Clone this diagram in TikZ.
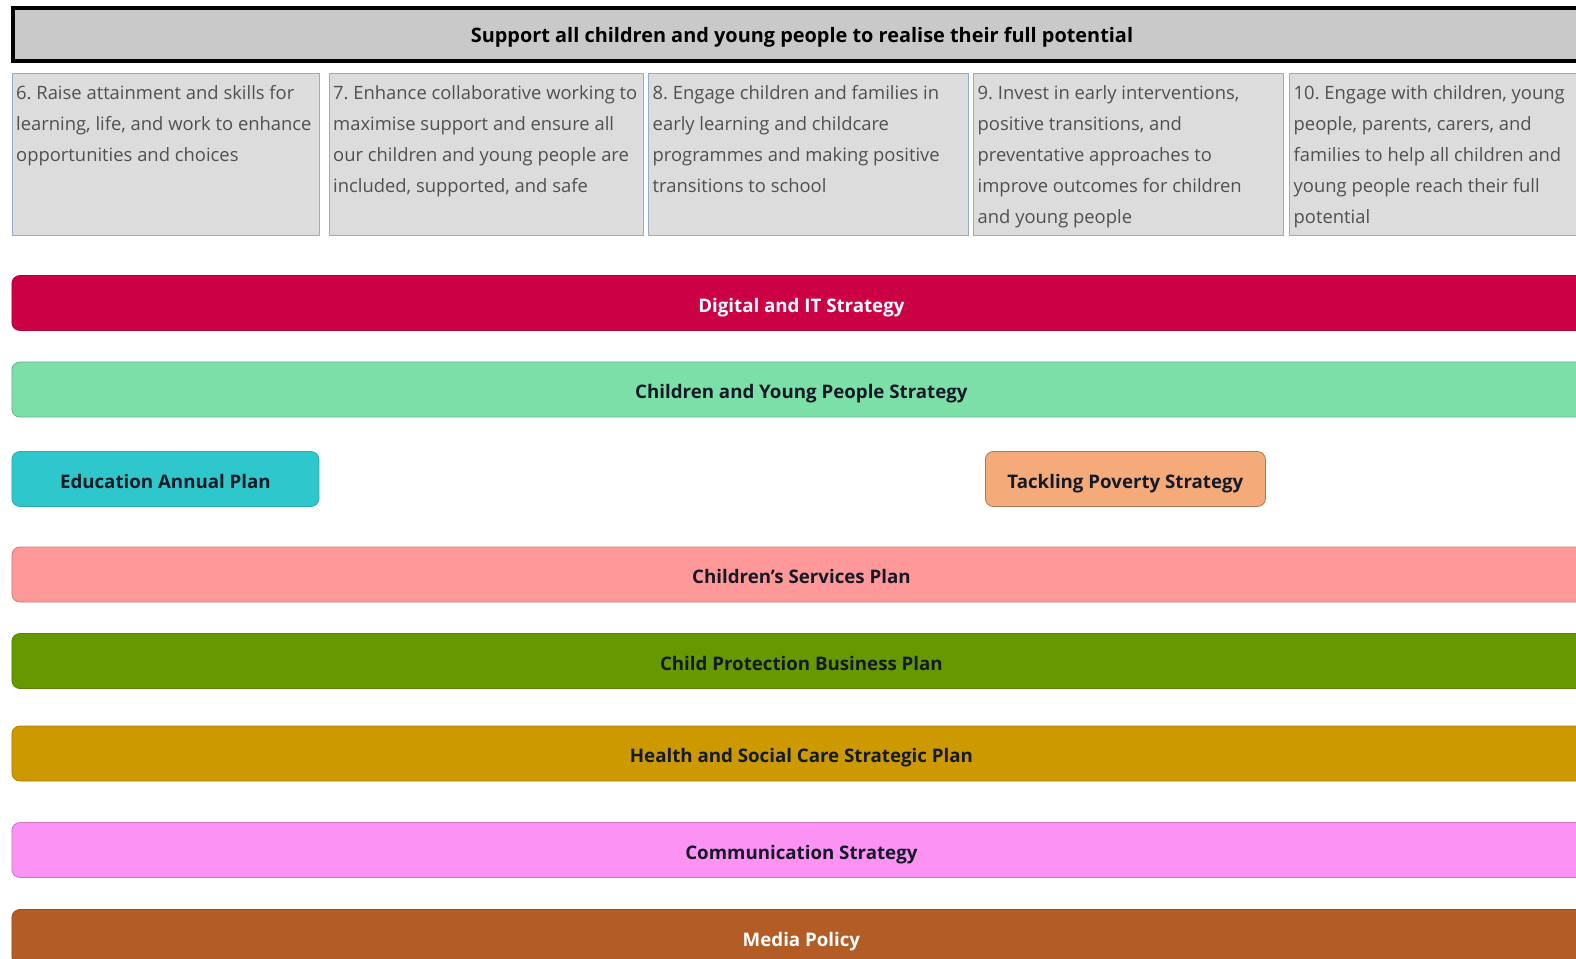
\documentclass[tikz,border=0pt]{standalone}
\usepackage{fontspec}
\setmainfont{Open Sans}
\frenchspacing
\definecolor{titlefill}{HTML}{C9C9C9}
\definecolor{boxfill}{HTML}{DCDCDC}
\definecolor{boxedge}{HTML}{92AECB}
\definecolor{goaltxt}{HTML}{505050}
\definecolor{bartxt}{HTML}{141A26}
\definecolor{cdigital}{HTML}{CC0044}
\definecolor{ccyp}{HTML}{7DDFA8}
\definecolor{cedu}{HTML}{2EC8CC}
\definecolor{cpov}{HTML}{F5AA7A}
\definecolor{ccsp}{HTML}{FF9999}
\definecolor{ccpb}{HTML}{669900}
\definecolor{chsc}{HTML}{CC9900}
\definecolor{ccomm}{HTML}{FC92F4}
\definecolor{cmedia}{HTML}{B35C25}
\begin{document}
\frenchspacing
\begin{tikzpicture}[x=1pt,y=-1pt,
  goalbox/.style={draw=boxedge, line width=1.3pt, fill=boxfill, inner sep=0pt, minimum height=162pt, anchor=north west},
  goaltext/.style={anchor=north west, align=left, text=goaltxt, inner sep=0pt, font=\fontsize{18.4}{31}\selectfont\frenchspacing},
  bar/.style={rounded corners=8pt, minimum height=55pt, inner sep=0pt, anchor=west,
    font=\fontsize{18.7}{20}\selectfont\bfseries, text=bartxt, line width=0.8pt,
    text height=18.6pt, text depth=0pt},
]
\useasboundingbox (0,0) rectangle (1576,958);
\clip (0,0) rectangle (1576,958);
\fill[white] (0,0) rectangle (1576,958);

% title bar
\node[draw=black, line width=4pt, fill=titlefill, minimum width=1578pt, minimum height=53pt,
  inner sep=0pt, anchor=west, font=\fontsize{19.9}{22}\selectfont\bfseries, text=black,
  text height=16.8pt, text depth=0pt]
  (title) at (11,34.5) {Support all children and young people to realise their full potential};

% goal boxes
\node[goalbox, minimum width=307pt] (g6) at (11.5,72.5) {};
\node[goalbox, minimum width=314pt] (g7) at (328.5,72.5) {};
\node[goalbox, minimum width=320pt] (g8) at (648,72.5) {};
\node[goalbox, minimum width=309.5pt] (g9) at (973,72.5) {};
\node[goalbox, minimum width=320pt] (g10) at (1289,72.5) {};

\node[goaltext] (t6) at ([shift={(4.5,13)}]g6.north west) {6. Raise attainment and skills for\\learning, life, and work to enhance\\opportunities and choices};
\node[goaltext] (t7) at ([shift={(4.5,13)}]g7.north west) {7. Enhance collaborative working to\\maximise support and ensure all\\our children and young people are\\included, supported, and safe};
\node[goaltext] (t8) at ([shift={(4.5,13)}]g8.north west) {8. Engage children and families in\\early learning and childcare\\programmes and making positive\\transitions to school};
\node[goaltext] (t9) at ([shift={(4.5,13)}]g9.north west) {9. Invest in early interventions,\\positive transitions, and\\preventative approaches to\\improve outcomes for children\\and young people};
\node[goaltext] (t10) at ([shift={(4.5,13)}]g10.north west) {10. Engage with children, young\\people, parents, carers, and\\families to help all children and\\young people reach their full\\potential};

% strategy bars
\node[bar, fill=cdigital, draw=cdigital!85!black, text=white, minimum width=1579pt] (digital) at (11.5,303) {Digital and IT Strategy};
\node[bar, fill=ccyp, draw=ccyp!80!black, minimum width=1579pt] (cyp) at (11.5,389.5) {Children and Young People Strategy};
\node[bar, fill=cedu, draw=cedu!85!black, minimum width=307pt] (edu) at (11.5,479) {Education Annual Plan};
\node[bar, fill=cpov, draw=cpov!70!black, minimum width=280pt] (pov) at (985,479) {Tackling Poverty Strategy};
\node[bar, fill=ccsp, draw=ccsp!80!black, minimum width=1579pt] (csp) at (11.5,574.5) {Children's Services Plan};
\node[bar, fill=ccpb, draw=ccpb!85!black, minimum width=1579pt] (cpb) at (11.5,661) {Child Protection Business Plan};
\node[bar, fill=chsc, draw=chsc!85!black, minimum width=1579pt] (hsc) at (11.5,753.5) {Health and Social Care Strategic Plan};
\node[bar, fill=ccomm, draw=ccomm!80!black, minimum width=1579pt] (comm) at (11.5,850) {Communication Strategy};
\node[bar, fill=cmedia, draw=cmedia!85!black, text=white, minimum width=1579pt] (media) at (11.5,937) {Media Policy};
\end{tikzpicture}
\end{document}
